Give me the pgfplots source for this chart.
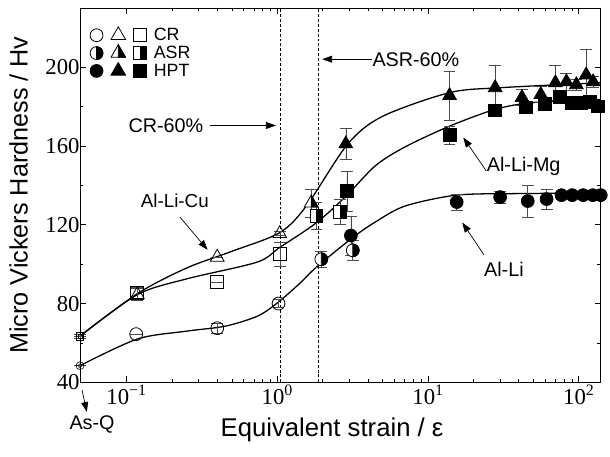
\documentclass[border=0pt]{standalone}
\usepackage{fontspec}
\setmainfont{Liberation Sans}
\newfontfamily\tnr{Liberation Serif}
\usepackage{pgfplots}
\pgfplotsset{compat=1.18}
\usetikzlibrary{arrows.meta}

% half filled marks (left white, right black)
\pgfdeclareplotmark{halfo}{%
  \pgfsetfillcolor{white}%
  \pgfpathcircle{\pgfpointorigin}{\pgfplotmarksize}%
  \pgfusepathqfillstroke
  \pgfsetfillcolor{black}%
  \pgfpathmoveto{\pgfqpoint{0pt}{\pgfplotmarksize}}%
  \pgfpatharc{90}{-90}{\pgfplotmarksize}%
  \pgfpathclose
  \pgfusepathqfillstroke
}
\pgfdeclareplotmark{halftri}{%
  \pgfsetfillcolor{white}%
  \pgfpathmoveto{\pgfqpoint{0pt}{\pgfplotmarksize}}%
  \pgfpathlineto{\pgfqpointpolar{-150}{\pgfplotmarksize}}%
  \pgfpathlineto{\pgfqpointpolar{-30}{\pgfplotmarksize}}%
  \pgfpathclose
  \pgfusepathqfillstroke
  \pgfsetfillcolor{black}%
  \pgfpathmoveto{\pgfqpoint{0pt}{\pgfplotmarksize}}%
  \pgfpathlineto{\pgfqpointpolar{-30}{\pgfplotmarksize}}%
  \pgfpathlineto{\pgfqpoint{0pt}{-0.5\pgfplotmarksize}}%
  \pgfpathclose
  \pgfusepathqfillstroke
}
\pgfdeclareplotmark{halfsq}{%
  \pgfsetfillcolor{white}%
  \pgfpathrectanglecorners{\pgfqpoint{-\pgfplotmarksize}{-\pgfplotmarksize}}{\pgfqpoint{\pgfplotmarksize}{\pgfplotmarksize}}%
  \pgfusepathqfillstroke
  \pgfsetfillcolor{black}%
  \pgfpathrectanglecorners{\pgfqpoint{0pt}{-\pgfplotmarksize}}{\pgfqpoint{\pgfplotmarksize}{\pgfplotmarksize}}%
  \pgfusepathqfillstroke
}

\newcommand{\ann}{\fontsize{20}{23}\selectfont}

\begin{document}
\begin{tikzpicture}
\begin{axis}[
    name=ax,
    scale only axis,
    width=527pt, height=379pt,
    xmode=log,
    xmin=0.0492, xmax=140,
    ymin=40, ymax=230,
    xtick={0.1,1,10,100},
    xticklabels={10\textsuperscript{−1},10\textsuperscript{0},10\textsuperscript{1},10\textsuperscript{2}},
    ytick={40,80,120,160,200},
    minor y tick num=1,
    tick align=inside,
    major tick length=6pt,
    minor tick length=3.5pt,
    axis line style={line width=0.8pt},
    every tick/.style={black, line width=0.6pt},
    /pgf/number format/assume math mode=true,
    tick label style={font=\tnr\fontsize{23}{25}\selectfont},
    yticklabel style={xshift=3pt},
    xticklabel style={yshift=1pt},
    xlabel={Equivalent strain / ε},
    ylabel={Micro Vickers Hardness / Hv},
    xlabel style={font=\fontsize{26}{29}\selectfont, at={(axis description cs:0.484,-0.145)}, anchor=base, inner sep=0pt},
    ylabel style={font=\fontsize{25.5}{28}\selectfont, at={(axis description cs:-0.10,0.5)}, anchor=south, inner sep=0pt},
    clip=false,
    legend style={at={(0.019,0.95)}, anchor=north west, draw=none, fill=none,
        font=\fontsize{18}{21}\selectfont, inner sep=0pt, row sep=1pt,
        nodes={inner sep=1.5pt}},
    legend cell align=left,
    error bars/y dir=both,
    error bars/y explicit,
    error bars/error bar style={gray!60!black, line width=0.6pt},
    error bars/error mark options={rotate=90, mark size=6pt, gray!60!black, line width=0.6pt},
]

% legend
\addlegendimage{legend image code/.code={%
  \draw[black,line width=0.8pt] plot[only marks,mark=o,mark size=6.5pt] coordinates{(0pt,0pt)}
     plot[only marks,mark=triangle,mark size=8.5pt] coordinates{(22pt,0pt)}
     plot[only marks,mark=square,mark size=6.5pt] coordinates{(44pt,0pt)};}}
\addlegendentry{\hspace{6pt}CR}
\addlegendimage{legend image code/.code={%
  \draw[black,line width=0.8pt] plot[only marks,mark=halfo,mark size=6.5pt] coordinates{(0pt,0pt)}
     plot[only marks,mark=halftri,mark size=8.5pt] coordinates{(22pt,0pt)}
     plot[only marks,mark=halfsq,mark size=6.5pt] coordinates{(44pt,0pt)};}}
\addlegendentry{\hspace{6pt}ASR}
\addlegendimage{legend image code/.code={%
  \draw[black,fill=black,line width=0.8pt] plot[only marks,mark=*,mark size=6.5pt] coordinates{(0pt,0pt)}
     plot[only marks,mark=triangle*,mark size=8.5pt] coordinates{(22pt,0pt)}
     plot[only marks,mark=square*,mark size=6.5pt] coordinates{(44pt,0pt)};}}
\addlegendentry{\hspace{6pt}HPT}

% 60% reduction strains
\addplot[forget plot, black, line width=0.6pt, dash pattern=on 3pt off 2pt] coordinates {(1.05,40) (1.05,230)};
\addplot[forget plot, black, line width=0.6pt, dash pattern=on 3pt off 2pt] coordinates {(1.87,40) (1.87,230)};

% fitted curves
\addplot[forget plot, black, line width=1.3pt, smooth, tension=0.5] coordinates {
 (0.0492,48.5) (0.118,62) (0.25,66) (0.45,68.5) (0.734,73.5) (0.99,80)
 (1.4,90) (1.82,98.5) (3.17,113.5) (4.5,121.5) (7.06,129.5)
 (15.5,135) (40,135.8) (140,136)};
\addplot[forget plot, black, line width=1.3pt, smooth, tension=0.5] coordinates {
 (0.0492,63.5) (0.118,84.5) (0.25,92.5) (0.734,101) (1.04,108.5)
 (1.82,121) (2.86,134.5) (4.49,150) (7.06,159.5) (13.9,170) (27.9,178.5)
 (50,182) (140,183.5)};
\addplot[forget plot, black, line width=1.3pt, smooth, tension=0.5] coordinates {
 (0.0492,63.5) (0.118,85) (0.25,98) (0.5,106.5) (1.04,116)
 (1.56,129.5) (2.94,161) (5,175) (13.9,187) (30,189.5) (140,192)};

% As-Q
\addplot[forget plot, black, only marks, line width=0.6pt, mark=o, mark size=4pt] coordinates {(0.0492,48.5) +- (0,0)};
\addplot[forget plot, black, only marks, line width=0.6pt, mark=o, mark size=2pt] coordinates {(0.0492,48.5) +- (0,0)};
\addplot[forget plot, black, only marks, line width=0.6pt, mark=square, mark size=3.8pt] coordinates {(0.0492,63.5) +- (0,1)};
\addplot[forget plot, black, only marks, line width=0.6pt, mark=square, mark size=1.8pt] coordinates {(0.0492,63.5) +- (0,0)};

% CR
\addplot[forget plot, black, only marks, line width=0.8pt, mark=o, mark size=6.5pt] coordinates {
 (0.116,64.5) +- (0,0) (0.40,67.5) +- (0,2.5) (1.02,80) +- (0,2)};
\addplot[forget plot, black, only marks, line width=0.8pt, mark=triangle, mark size=8pt] coordinates {
 (0.118,84.5) +- (0,3) (0.40,103.5) +- (0,0) (1.04,115.5) +- (0,1)};
\addplot[forget plot, black, only marks, line width=0.8pt, mark=square, mark size=6.5pt] coordinates {
 (0.118,85.5) +- (0,3) (0.40,91) +- (0,0) (1.04,105) +- (0,6)};

% ASR
\addplot[forget plot, black, only marks, line width=0.8pt, mark=halfo, mark size=6.5pt] coordinates {
 (1.96,102.5) +- (0,4) (3.17,107) +- (0,5)};
\addplot[forget plot, black, only marks, line width=0.8pt, mark=halftri, mark size=8pt] coordinates {
 (1.68,131) +- (0,7)};
\addplot[forget plot, black, only marks, line width=0.8pt, mark=halfsq, mark size=6.5pt] coordinates {
 (1.82,124.5) +- (0,7) (2.61,126.5) +- (0,6.5)};

% HPT
\addplot[forget plot, black, fill=black, only marks, line width=0.8pt, mark=*, mark size=6.5pt] coordinates {
 (3.08,114.5) +- (0,10) (15.5,131.5) +- (0,4) (30.1,134) +- (0,3) (45.9,132) +- (0,8)
 (61.2,133) +- (0,5) (76.8,135) +- (0,1) (90.6,135) +- (0,1) (107,135) +- (0,1)
 (124,135) +- (0,1) (140,135) +- (0,1)};
\addplot[forget plot, black, fill=black, only marks, line width=0.8pt, mark=triangle*, mark size=8pt] coordinates {
 (2.85,161) +- (0,8) (13.9,185.5) +- (0,12.5) (27.9,189.5) +- (0,11.5) (42,184.5) +- (0,4)
 (56,186) +- (0,4) (70,192) +- (0,9) (82.8,192.5) +- (0,4.5) (96.4,191) +- (0,3)
 (112,196) +- (0,13) (124.6,192.5) +- (0,3)};
\addplot[forget plot, black, fill=black, only marks, line width=0.8pt, mark=square*, mark size=6.5pt] coordinates {
 (2.9,137) +- (0,10) (13.9,165.5) +- (0,4.5) (27.9,178) +- (0,2) (44.6,179.5) +- (0,3)
 (59.4,181.5) +- (0,3) (74.5,185) +- (0,3) (89.3,182) +- (0,3) (104,182) +- (0,3)
 (119,182.5) +- (0,3) (134,180) +- (0,2)};

% annotations
\tikzset{ar/.style={-{Triangle[length=10pt,width=7pt]}, line width=0.7pt, black}}
\node[font=\ann, inner sep=0pt] at (rel axis cs:0.165,0.686) {CR-60\%};
\draw[ar] (rel axis cs:0.249,0.686) -- (rel axis cs:0.376,0.686);
\node[font=\ann, inner sep=0pt] at (rel axis cs:0.645,0.863) {ASR-60\%};
\draw[ar] (rel axis cs:0.560,0.863) -- (rel axis cs:0.465,0.863);
\node[font=\fontsize{19}{22}\selectfont, inner sep=0pt] at (rel axis cs:0.182,0.485) {Al-Li-Cu};
\draw[ar] (rel axis cs:0.192,0.441) -- (rel axis cs:0.245,0.354);
\node[font=\ann, inner sep=0pt] at (rel axis cs:0.852,0.578) {Al-Li-Mg};
\draw[ar] (rel axis cs:0.780,0.565) -- (rel axis cs:0.736,0.654);
\node[font=\ann, inner sep=0pt] at (rel axis cs:0.814,0.303) {Al-Li};
\draw[ar] (rel axis cs:0.776,0.340) -- (rel axis cs:0.734,0.427);
\node[font=\ann, inner sep=0pt] at (rel axis cs:0.023,-0.113) {As-Q};
\draw[ar] (rel axis cs:0.004,-0.021) -- (rel axis cs:0.013,-0.079);
\end{axis}
\path ([shift={(-81pt,-75pt)}]ax.south west) rectangle ([shift={(2pt,8pt)}]ax.north east);
\end{tikzpicture}
\end{document}
